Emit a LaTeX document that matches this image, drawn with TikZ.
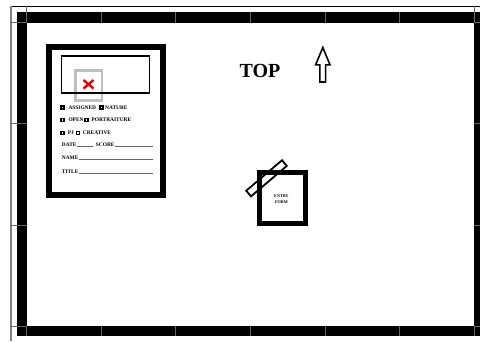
\documentclass[tikz,border=0pt]{standalone}
\usepackage{fontspec}
\setmainfont{Liberation Serif}
\begin{document}
\begin{tikzpicture}[x=1pt,y=-1pt,
  lbl/.style={font=\fontsize{5.4}{6}\selectfont\bfseries, inner sep=0pt, anchor=base west},
  cb/.style={fill=black, inner sep=0pt, minimum size=4.7pt,
    path picture={\fill[white] (path picture bounding box.center) ++(-0.55,-0.55) rectangle ++(1.1,1.1);}},
  div/.style={draw=black!60, line width=0.5pt},
  uline/.style={draw=black!60, line width=0.5pt}]
\useasboundingbox (0,0) rectangle (480,341);
\fill[white] (0,0) rectangle (480,341);
% outer sheet frame
\draw[black, line width=1pt] (11,6) -- (480,6);
\draw[black!50, line width=1.5pt] (11,6) -- (11,341);
\fill[black] (16.5,12) rectangle (480,22.5);
\fill[black] (16.5,326) rectangle (480,335.5);
\fill[black] (16.5,12) rectangle (26.5,335.5);
\fill[black] (474.3,12) rectangle (480,335.5);
\foreach \x in {26.5,101,175,250,325,399,474.3} {
  \draw[div] (\x,12) -- (\x,22.5);
  \draw[div] (\x,326) -- (\x,335.5);
}
\draw[div] (26.5,6) -- (26.5,12);
\draw[div] (474.3,6) -- (474.3,12);
\foreach \y in {22.5,123,225,326} {
  \draw[div] (11,\y) -- (26.5,\y);
  \draw[div] (474.3,\y) -- (480,\y);
}
% entry form card
\node[draw, line width=5.5pt, minimum width=114pt, minimum height=148pt, inner sep=0pt] (form) at (106,121) {};
\node[draw=black!25, line width=2.5pt, fill=white, minimum width=26.5pt, minimum height=30pt, inner sep=0pt] (photo) at (88.8,85.5) {};
\draw[line width=1.8pt] (61.5,56) rectangle (149.5,93);
\draw[red!90!black, line width=2.4pt] (83.5,80) -- (93.5,88.5) (83.5,88.5) -- (93.5,80);
% checkboxes
\node[cb] (c1) at (62.2,107.5) {};
\node[lbl] (t1) at (68.3,109.4) {ASSIGNED};
\node[cb] (c2) at (101.3,107.5) {};
\node[lbl] (t2) at (105,109.4) {NATURE};
\node[cb] (c3) at (62.2,120) {};
\node[lbl] (t3) at (68.3,121.9) {OPEN};
\node[cb] (c4) at (86.5,120) {};
\node[lbl] (t4) at (91.3,121.9) {PORTRAITURE};
\node[cb] (c5) at (62.2,133) {};
\node[lbl] (t5) at (67.7,134.9) {PJ};
\node[cb] (c6) at (78,133) {};
\node[lbl] (t6) at (82.7,134.9) {CREATIVE};
% fields
\node[lbl] (date) at (61.7,146.2) {DATE};
\draw[uline] (date.base east) -- (93.3,146.2);
\node[lbl] (score) at (95.7,146.2) {SCORE};
\draw[uline] (score.base east) -- (153.3,146.2);
\node[lbl] (name) at (61.7,159.2) {NAME};
\draw[uline] (name.base east) -- (153.3,159.2);
\node[lbl] (title) at (61.7,173.5) {TITLE};
\draw[uline] (title.base east) -- (153.3,173.5);
% TOP and arrow
\node[font=\fontsize{20}{22}\selectfont\bfseries, anchor=base, inner sep=0pt] (top) at (260,77.5) {TOP};
\draw[line width=1.6pt, line join=miter] (322.8,47.5) -- (330,64.8) -- (325.6,64.8) -- (325.6,82) -- (319.8,82) -- (319.8,64.8) -- (315.6,64.8) -- cycle;
% entry form small box
\node[draw, line width=5pt, minimum width=46.5pt, minimum height=51pt, inner sep=0pt] (entry) at (282.3,198) {};
\node[font=\fontsize{4.2}{5.8}\selectfont\bfseries, align=center, inner sep=0pt] (entrytxt) at (281.5,199) {ENTRY\\FORM};
\draw[line width=1.8pt] (286.8,165.9) -- (282,160.25) -- (246.2,190.7) -- (251,196.35) -- cycle;
\end{tikzpicture}
\end{document}
